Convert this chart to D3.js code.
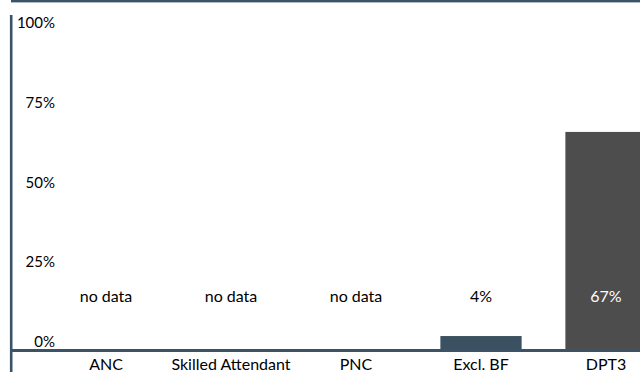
<!DOCTYPE html>
<html>
<head>
<meta charset="utf-8">
<script src="https://cdn.jsdelivr.net/npm/d3@7/dist/d3.min.js"></script>
<style>
  html, body { margin: 0; padding: 0; background: #fff; }
  svg { display: block; }
  text { font-family: "Gill Sans", "Gill Sans MT", Lato, sans-serif; }
</style>
</head>
<body>
<svg id="chart" width="640" height="372"></svg>
<script>
const categories = ["ANC", "Skilled Attendant", "PNC", "Excl. BF", "DPT3"];
const values = [null, null, null, 4, 67];
const valueLabels = ["no data", "no data", "no data", "4%", "67%"];
const tickValues = [0, 25, 50, 75, 100];
const tickLabels = ["0%", "25%", "50%", "75%", "100%"];

const W = 640, H = 372;
const axisColor = "#3b5366";
const barColors = ["#3b5161", "#3b5161", "#3b5161", "#3b5161", "#4d4d4d"];
const labelColors = ["#000", "#000", "#000", "#000", "#fff"];

const svg = d3.select("#chart");

const x = d3.scaleBand()
  .domain(categories)
  .range([43.5, 668.5])
  .paddingInner(0.35)
  .paddingOuter(0.175);

const y = d3.scaleLinear().domain([0, 100]).range([349, 25]);
const yTick = d3.scaleLinear().domain([0, 100]).range([347, 28]);

// bars
svg.append("g").selectAll("rect")
  .data(categories.map((c, i) => ({ c, v: values[i], i })).filter(d => d.v != null))
  .join("rect")
  .attr("x", d => x(d.c))
  .attr("y", d => y(d.v))
  .attr("width", x.bandwidth())
  .attr("height", d => y(0) - y(d.v))
  .attr("fill", d => barColors[d.i]);

// top rule
svg.append("rect").attr("x", 11).attr("y", 0).attr("width", W - 11).attr("height", 2.4).attr("fill", axisColor);

// left axis line
svg.append("line").attr("x1", 11.2).attr("x2", 11.2).attr("y1", 15).attr("y2", H)
  .attr("stroke", axisColor).attr("stroke-width", 2.6);

// baseline
svg.append("line").attr("x1", 11).attr("x2", W).attr("y1", y(0) + 1.6).attr("y2", y(0) + 1.6)
  .attr("stroke", axisColor).attr("stroke-width", 3);

// y tick labels
svg.append("g").selectAll("text")
  .data(tickValues)
  .join("text")
  .attr("x", 55)
  .attr("y", d => yTick(d))
  .attr("text-anchor", "end")
  .attr("font-size", 15)
  .attr("fill", "#000")
  .text((d, i) => tickLabels[i]);

// x category labels
svg.append("g").selectAll("text")
  .data(categories)
  .join("text")
  .attr("x", d => x(d) + x.bandwidth() / 2)
  .attr("y", 370)
  .attr("text-anchor", "middle")
  .attr("font-size", 16)
  .attr("fill", "#000")
  .text(d => d);

// value labels
const labelY = 302;
svg.append("g").selectAll("text")
  .data(categories)
  .join("text")
  .attr("x", d => x(d) + x.bandwidth() / 2)
  .attr("y", labelY)
  .attr("text-anchor", "middle")
  .attr("font-size", 16)
  .attr("fill", (d, i) => labelColors[i])
  .text((d, i) => valueLabels[i]);
</script>
</body>
</html>
